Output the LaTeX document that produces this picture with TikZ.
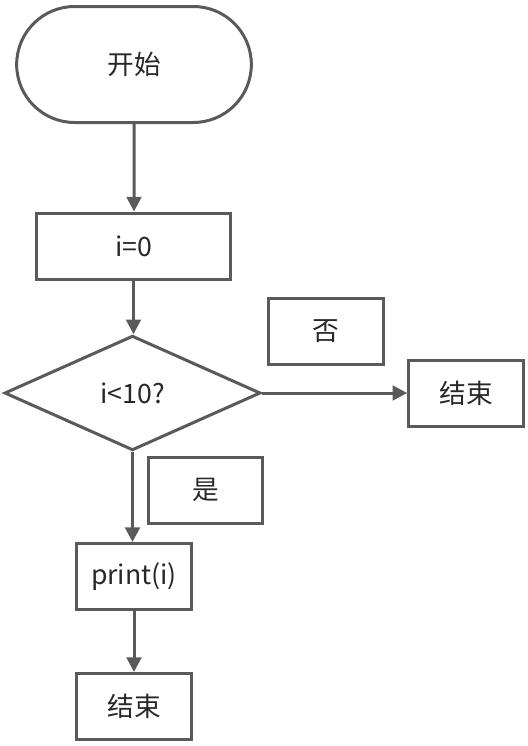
\documentclass[tikz,border=0pt]{standalone}
\usepackage{fontspec}
\setmainfont{Noto Sans CJK SC}
\usetikzlibrary{positioning,arrows.meta,shapes.geometric,shapes.misc}
\definecolor{flowgray}{RGB}{90,90,90}
\definecolor{flowtext}{RGB}{40,40,40}
\tikzset{
  flowbase/.style={draw=flowgray, line width=2.25pt, fill=white, text=flowtext,
    font=\fontsize{20}{24}\selectfont, inner sep=0pt},
  startbox/.style={flowbase, rounded rectangle, minimum width=176pt, minimum height=87pt},
  procbox/.style={flowbase, rectangle, minimum width=86pt, minimum height=49.5pt},
  widebox/.style={procbox, minimum width=146pt},
  decbox/.style={flowbase, diamond, minimum width=192pt, minimum height=86pt},
  flowarrow/.style={draw=flowgray, line width=2.25pt, -{Triangle[width=11pt,length=11pt]}}
}

\begin{document}
\begin{tikzpicture}[x=0.75pt,y=-0.75pt]
  \useasboundingbox (0,0) rectangle (528,746);
  \node[startbox] (start) at (134,64.5) {开始};
  \node[widebox]  (init)  at (133.5,246) {i=0};
  \node[decbox]   (test)  at (132.5,393) {i<10?};
  \node[procbox]  (endright) at (466,393) {结束};
  \node[procbox]  (body)  at (134,576.5) {print(i)};
  \node[procbox]  (endbottom) at (134,706.5) {结束};
  % branch labels
  \node[procbox]  (nolabel)  at (326,331.5) {否};
  \node[procbox]  (yeslabel) at (205.5,490) {是};
  \draw[flowarrow] (start) -- (start |- init.north);
  \draw[flowarrow] (init) -- (init |- test.north);
  \draw[flowarrow] (test) -- (endright);
  \draw[flowarrow] (test.south) -- (test.south |- body.north);
  \draw[flowarrow] (body) -- (endbottom);
\end{tikzpicture}
\end{document}
